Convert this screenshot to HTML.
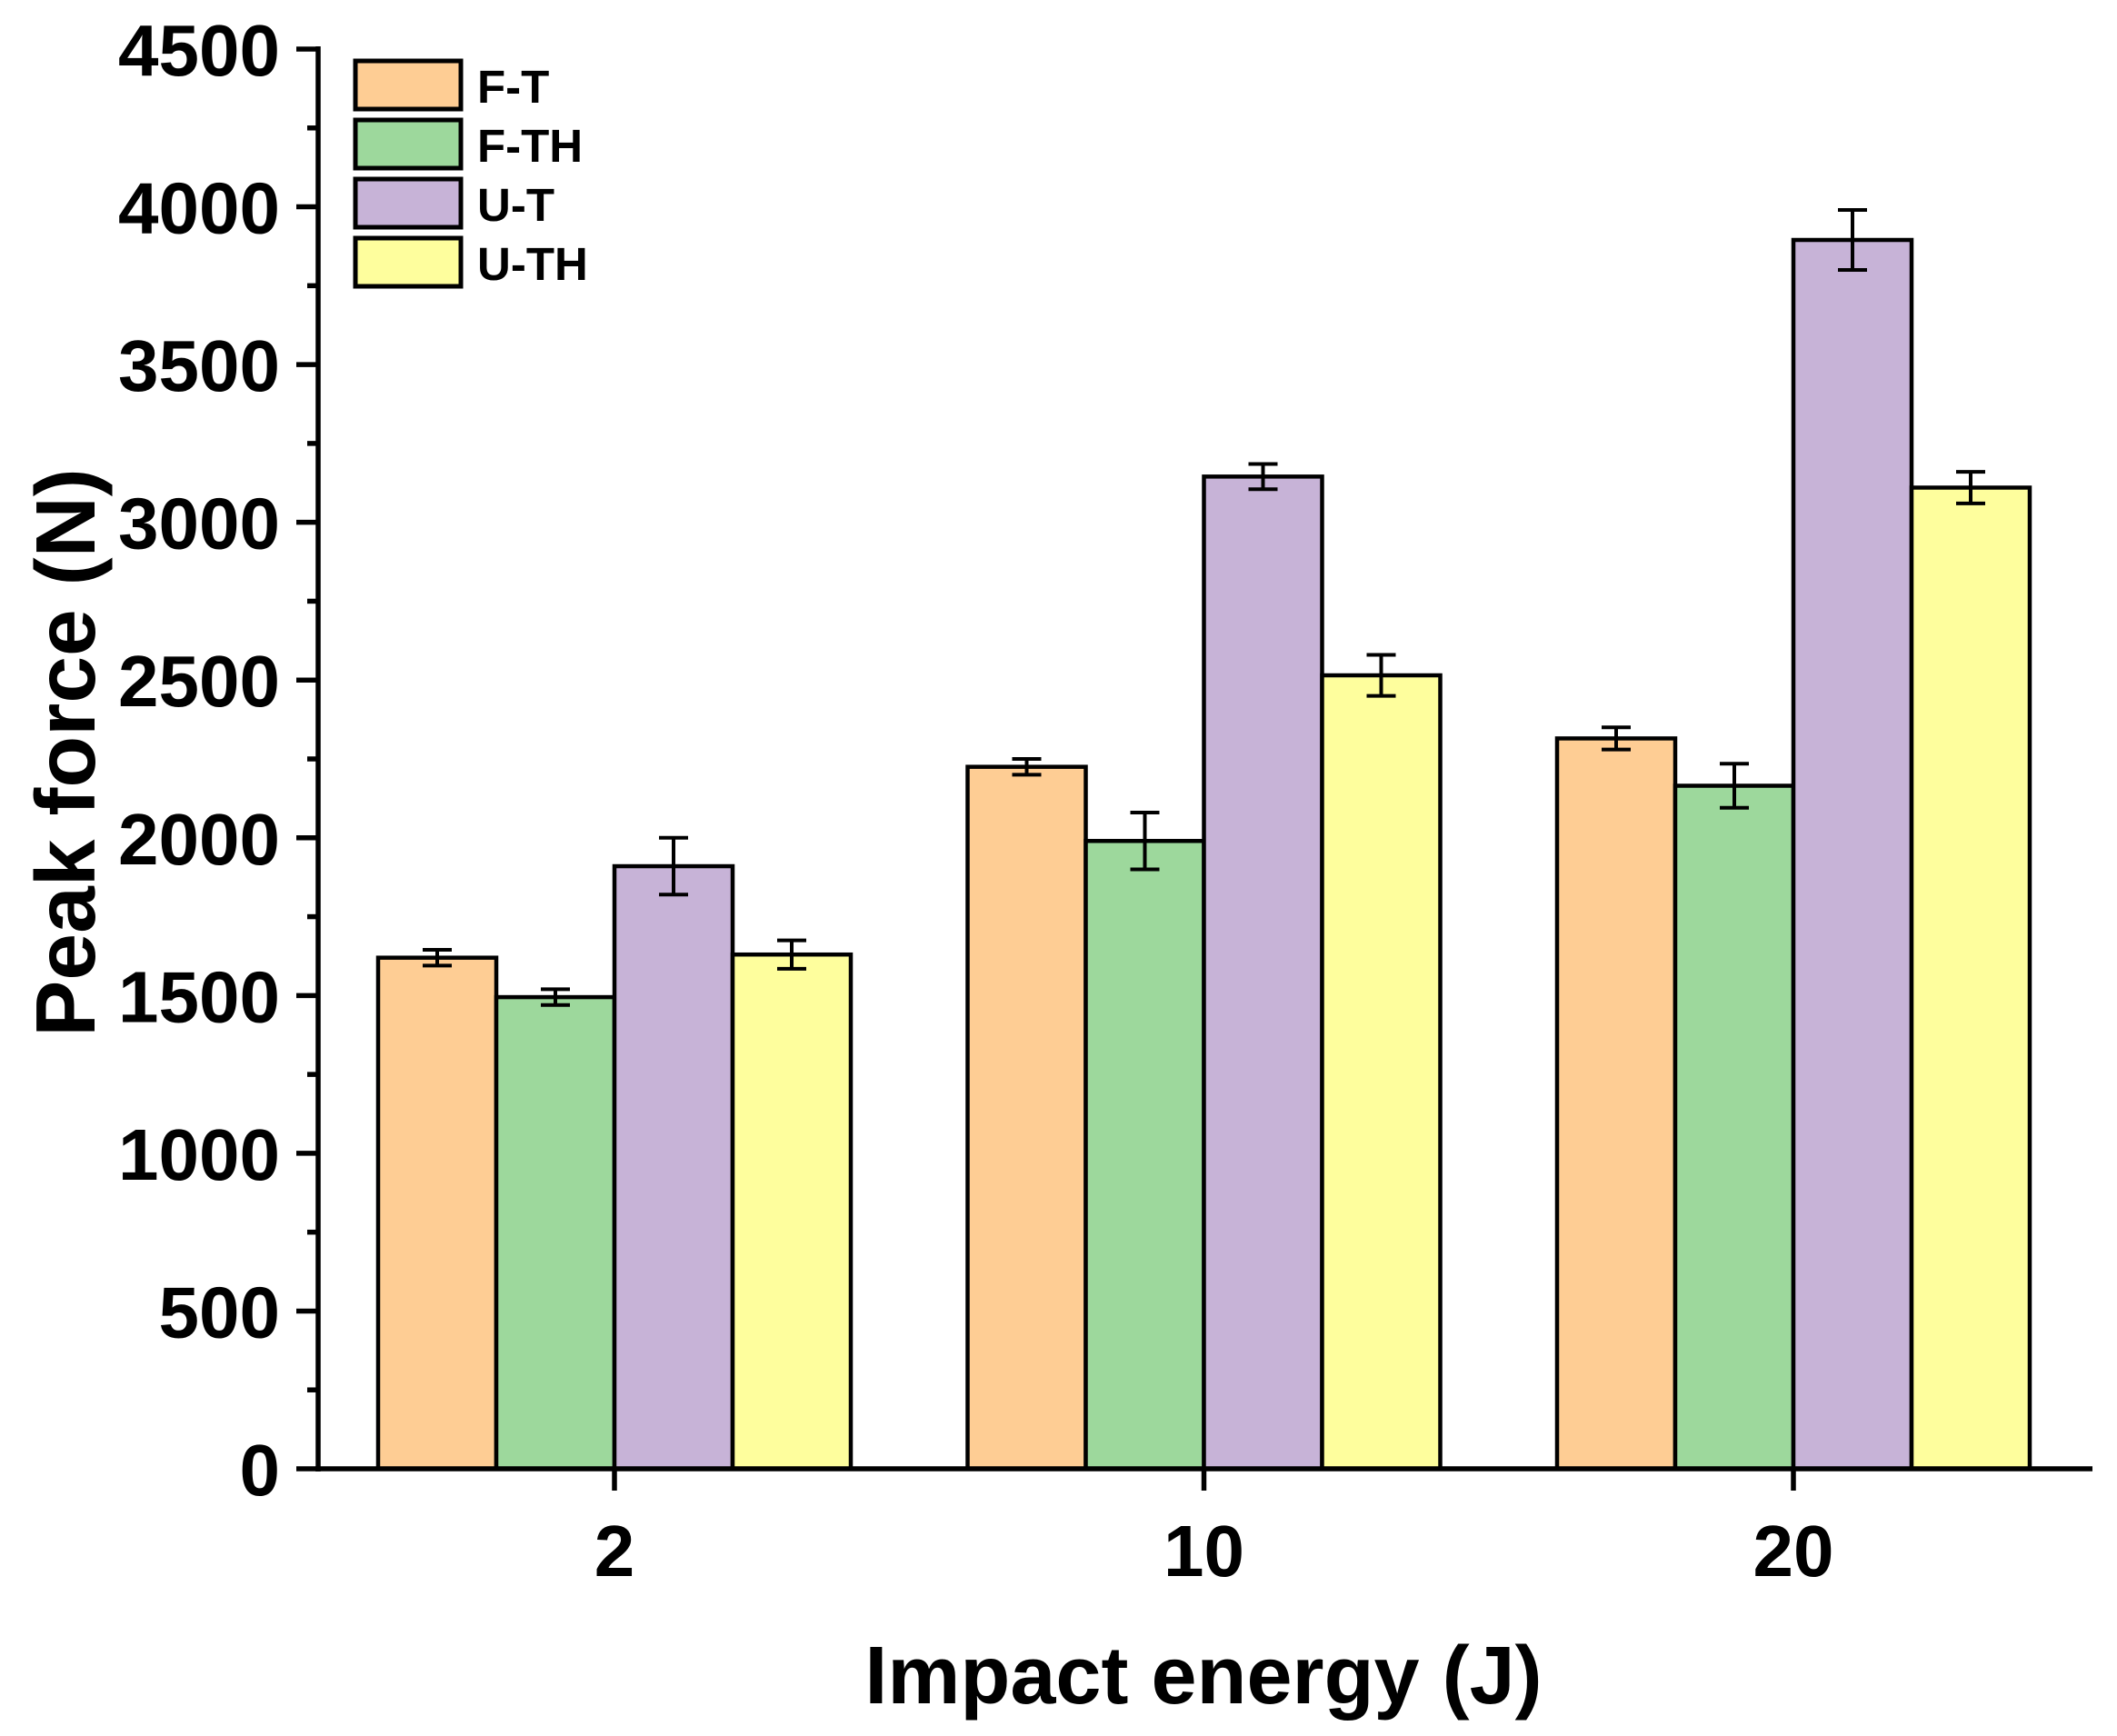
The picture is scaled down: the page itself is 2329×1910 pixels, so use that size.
<!DOCTYPE html>
<html><head><meta charset="utf-8"><style>
html,body{margin:0;padding:0;background:#fff;}
svg{display:block;font-family:"Liberation Sans",Arial,sans-serif;font-weight:bold;}
</style></head><body>
<svg id="chart" width="2329" height="1910" viewBox="0 0 2329 1910"></svg>
<script>
const categories = ["2","10","20"];
const seriesNames = ["F-T","F-TH","U-T","U-TH"];
const seriesColors = ["#FECD94","#9DD89C","#C7B3D7","#FEFE9D"];
const ftValues = [1620,2225,2315];
const fthValues = [1495,1990,2165];
const utValues = [1910,3145,3895];
const uthValues = [1630,2515,3110];
const ftErr = [25,25,35];
const fthErr = [25,90,70];
const utErr = [90,40,95];
const uthErr = [45,65,50];
const yTicks = [0,500,1000,1500,2000,2500,3000,3500,4000,4500];

const values = [ftValues,fthValues,utValues,uthValues];
const errs = [ftErr,fthErr,utErr,uthErr];
const NS="http://www.w3.org/2000/svg";
const svg=document.getElementById('chart');
const y0=1616, yTop=54, yMax=4500;
const yScale=v=>y0-(v/yMax)*(y0-yTop);
const xLeft=350, xRight=2302;
const catCenter0=676, catStep=648.5;
const xScale=i=>catCenter0+i*catStep;
const barW=130;
function el(tag,attrs,parent){const e=document.createElementNS(NS,tag);for(const k in attrs)e.setAttribute(k,attrs[k]);(parent||svg).appendChild(e);return e;}

values.forEach((arr,s)=>{
  const g=el('g',{});
  
  
  arr.forEach((v,i)=>{
    const x=xScale(i)+(s-2)*barW;
    const r=el('rect',{x:x,y:yScale(v),width:barW,height:y0-yScale(v),fill:seriesColors[s],stroke:'#000','stroke-width':4.5},g);
    
    
    const cx=x+barW/2, e=errs[s][i];
    const eg=el('g',{stroke:'#000','stroke-width':4},g);
    
    
    el('line',{x1:cx,x2:cx,y1:yScale(v+e),y2:yScale(v-e)},eg);
    el('line',{x1:cx-16,x2:cx+16,y1:yScale(v+e),y2:yScale(v+e)},eg);
    el('line',{x1:cx-16,x2:cx+16,y1:yScale(v-e),y2:yScale(v-e)},eg);
  });
});

const ya=el('g',{stroke:'#000','stroke-width':5.5});


el('line',{x1:xLeft,x2:xLeft,y1:yTop-3,y2:y0+3},ya);
yTicks.forEach((t,k)=>{
  const y=yScale(t);
  el('line',{x1:xLeft-24,x2:xLeft,y1:y,y2:y},ya);
  if(k<yTicks.length-1){const ym=yScale(t+250);el('line',{x1:xLeft-12,x2:xLeft,y1:ym,y2:ym},ya);}
  const tx=el('text',{x:xLeft-42,y:y+29,'text-anchor':'end','font-size':80,fill:'#000'});
  tx.textContent=t;
  
  
});
const xa=el('g',{stroke:'#000','stroke-width':5.5});


el('line',{x1:xLeft-3,x2:xRight,y1:y0,y2:y0},xa);
categories.forEach((c,i)=>{
  const x=xScale(i);
  el('line',{x1:x,x2:x,y1:y0,y2:y0+24},xa);
  const tx=el('text',{x:x,y:1734,'text-anchor':'middle','font-size':80,fill:'#000'});
  tx.textContent=c;
  
  
});
const xt=el('text',{x:1324,y:1874,'text-anchor':'middle','font-size':90,fill:'#000'});
xt.textContent='Impact energy (J)';


const yt=el('text',{x:0,y:0,'text-anchor':'middle','font-size':93,fill:'#000',transform:'translate(104,828) rotate(-90)'});
yt.textContent='Peak force (N)';


seriesNames.forEach((n,s)=>{
  const g=el('g',{});
  
  
  const y=67+s*65;
  el('rect',{x:391,y:y,width:116,height:53,fill:seriesColors[s],stroke:'#000','stroke-width':5},g);
  const t=el('text',{x:525,y:y+46,'font-size':51,fill:'#000'},g);
  t.textContent=n;
});
</script>
</body></html>
